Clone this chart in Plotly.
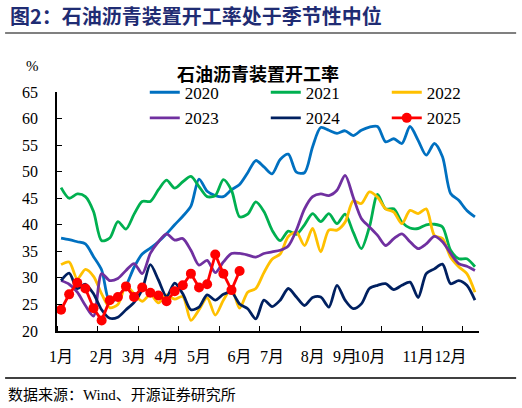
import plotly.graph_objects as go

# weekly capacity utilisation of petroleum asphalt units, %
weeks = list(range(52))

y2020 = [37.5, 37.2, 36.8, 36.4, 34.0, 31.5, 25.5, 26.3, 28.5, 32.0, 34.5, 35.6, 36.8,
         38.3, 40.0, 41.6, 43.5, 48.6, 46.3, 45.5, 45.3, 46.6, 47.6, 49.8, 52.1, 50.9,
         49.6, 52.3, 53.3, 49.9, 49.8, 54.7, 58.3, 57.8, 57.2, 57.7, 56.8, 57.8, 58.4,
         58.5, 55.6, 56.2, 55.3, 58.5, 55.9, 53.1, 55.3, 52.8, 45.9, 44.6, 42.7, 41.5]
y2021 = [47.0, 45.0, 45.8, 45.3, 42.5, 37.0, 37.5, 40.6, 39.2, 42.0, 44.4, 44.4, 46.6,
         48.4, 46.9, 48.1, 49.1, 47.2, 45.3, 45.5, 48.5, 46.5, 41.5, 42.0, 44.3, 42.5,
         39.0, 37.0, 38.8, 38.2, 40.0, 42.1, 40.6, 42.1, 40.2, 42.0, 38.6, 35.5, 39.6,
         45.7, 43.0, 43.0, 40.5, 39.4, 39.3, 40.0, 40.1, 39.6, 35.2, 33.6, 33.6, 32.1]
y2022 = [32.5, 33.0, 29.8, 31.6, 30.3, 27.0, 24.4, 25.0, 28.5, 27.0, 25.6, 26.9, 25.3,
         26.8, 26.0, 26.5, 22.0, 24.0, 26.3, 23.0, 25.8, 28.0, 24.3, 27.3, 28.0, 31.0,
         33.5, 34.5, 37.8, 38.6, 36.1, 39.3, 34.9, 39.0, 39.0, 40.5, 44.5, 44.0, 46.2,
         45.2, 43.0, 42.4, 40.2, 42.7, 42.1, 43.0, 38.0, 37.4, 33.9, 32.1, 30.8, 27.3]
y2023 = [29.5, 28.8, 27.3, 24.8, 22.8, 30.8, 29.5, 29.9, 31.4, 32.7, 30.8, 34.6, 36.8,
         38.3, 37.1, 37.4, 35.2, 32.4, 33.3, 31.0, 33.0, 34.6, 34.6, 34.3, 33.9, 34.6,
         34.9, 35.2, 36.0, 39.0, 43.0, 45.3, 45.8, 45.5, 46.5, 49.3, 45.2, 41.2, 39.6,
         38.0, 36.1, 37.4, 38.3, 36.8, 35.5, 36.4, 37.8, 36.8, 34.6, 32.7, 32.2, 31.4]
y2024 = [29.5, 30.9, 28.0, 28.8, 27.0, 24.0, 22.4, 22.6, 24.0, 25.4, 27.8, 32.5, 29.6,
         26.5, 29.0, 27.0, 24.0, 24.5, 26.8, 25.8, 26.9, 27.3, 25.1, 24.2, 22.3, 25.8,
         24.6, 25.8, 28.0, 26.4, 24.8, 26.3, 26.4, 24.5, 28.6, 25.8, 24.2, 25.1, 28.0,
         28.6, 28.9, 27.8, 28.6, 29.2, 26.3, 30.8, 31.7, 32.6, 28.9, 29.5, 28.6, 25.8]
y2025 = [24.0, 26.9, 29.1, 28.0, 24.3, 22.0, 25.8, 26.4, 28.4, 26.4, 28.2, 27.2, 26.7,
         25.6, 27.5, 28.6, 30.8, 28.2, 28.8, 34.4, 30.8, 27.7, 31.3]

month_pos = [0, 5, 9, 13, 17, 22, 26, 31, 35, 38, 44, 48]
month_labels = ["1月", "2月", "3月", "4月", "5月", "6月", "7月", "8月", "9月", "10月", "11月", "12月"]

serif = "Times New Roman, Liberation Serif, Noto Sans CJK SC"
cjk = "Noto Sans CJK SC"

fig = go.Figure()
series = [("2020", y2020, "#0070C0", "legend"),
          ("2021", y2021, "#00B050", "legend"),
          ("2022", y2022, "#FFC000", "legend"),
          ("2023", y2023, "#7030A0", "legend2"),
          ("2024", y2024, "#002060", "legend2")]
for name, vals, col, lg in series:
    fig.add_trace(go.Scatter(x=weeks[:len(vals)], y=vals, name=name, mode="lines",
                             line=dict(color=col, width=2.8, shape="spline", smoothing=0.8),
                             legend=lg))
fig.add_trace(go.Scatter(x=weeks[:len(y2025)], y=y2025, name="2025", mode="lines+markers",
                         line=dict(color="#FF0000", width=2.8),
                         marker=dict(color="#FF0000", size=10),
                         legend="legend2"))

leg = dict(orientation="h", xanchor="left", yanchor="middle", x=0.208,
           font=dict(family=serif, size=17, color="black"),
           entrywidth=76, bgcolor="rgba(0,0,0,0)", itemwidth=30)

fig.update_layout(
    width=522, height=408,
    margin=dict(l=57, r=43, t=92, b=77),
    paper_bgcolor="white", plot_bgcolor="white",
    showlegend=True,
    legend=dict(leg, y=0.997),
    legend2=dict(leg, y=0.89),
    xaxis=dict(range=[-0.5, 51.5], tickmode="array", tickvals=month_pos, ticktext=month_labels,
               ticks="", showline=True, linecolor="black", linewidth=1.5, showgrid=False,
               zeroline=False, ticklabelstandoff=10, tickangle=0, automargin=False,
               tickfont=dict(family=serif, size=16, color="black"),
               minor=dict(tickmode="array", tickvals=[-0.5 + 5 * k for k in range(11)],
                          ticks="inside", ticklen=5, tickcolor="black", tickwidth=1.2,
                          showgrid=False)),
    yaxis=dict(range=[20, 65], dtick=5, ticks="inside", ticklen=5, tickcolor="black",
               tickwidth=1.2, showline=True, linecolor="black", linewidth=1.5,
               showgrid=False, zeroline=False, ticklabelstandoff=14, automargin=False,
               tickfont=dict(family=serif, size=16, color="black")),
)

fig.add_annotation(text="<b>图2：石油沥青装置开工率处于季节性中位</b>", xref="paper", yref="paper",
                   x=-0.117, y=1.318, xanchor="left", yanchor="middle", showarrow=False,
                   font=dict(family=cjk, size=20, color="#1f2c73"))
fig.add_annotation(text="<b>石油沥青装置开工率</b>", xref="paper", yref="paper",
                   x=0.476, y=1.08, xanchor="center", yanchor="middle", showarrow=False,
                   font=dict(family=cjk, size=18, color="black"))
fig.add_annotation(text="%", xref="paper", yref="paper", x=-0.057, y=1.109,
                   xanchor="center", yanchor="middle", showarrow=False,
                   font=dict(family=serif, size=15, color="black"))
fig.add_annotation(text="数据来源：Wind、开源证券研究所", xref="paper", yref="paper",
                   x=-0.121, y=-0.268, xanchor="left", yanchor="middle", showarrow=False,
                   font=dict(family=serif, size=15, color="black"))

fig.add_shape(type="line", xref="paper", yref="paper", x0=-0.123, x1=1.088, y0=1.247, y1=1.247,
              line=dict(color="#808080", width=2))
fig.add_shape(type="line", xref="paper", yref="paper", x0=-0.123, x1=1.088, y0=-0.197, y1=-0.197,
              line=dict(color="black", width=1.5))

# drop the browser's default body margin so the figure sits at the page corner
fig.write_html("out.html", config={"displayModeBar": False},
               post_script="document.body.style.margin='0';")
